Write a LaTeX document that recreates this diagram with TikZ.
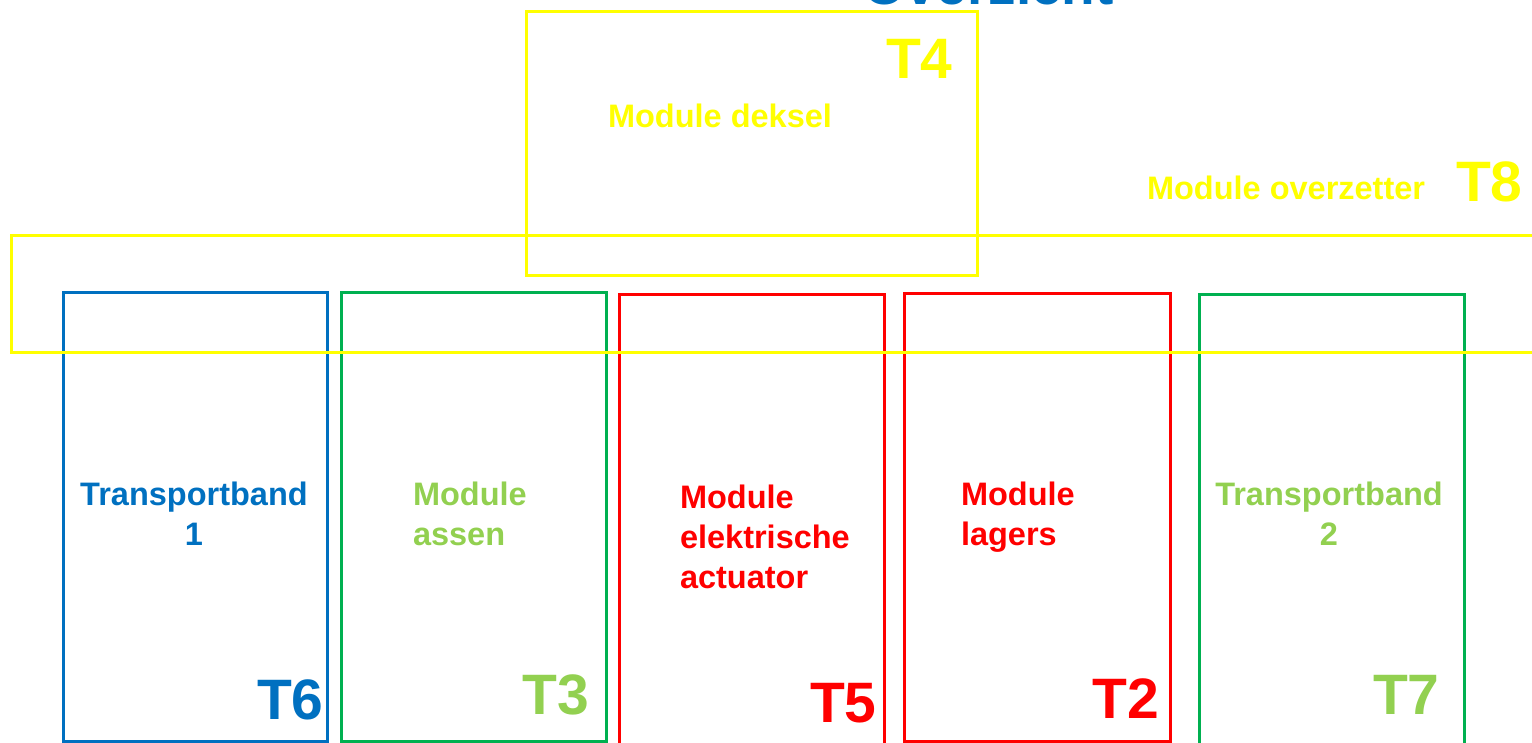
\documentclass[tikz,border=0pt]{standalone}
\usepackage{fontspec}
\setmainfont{Liberation Sans}
\definecolor{cblue}{HTML}{0070C0}
\definecolor{cgreen}{HTML}{00B050}
\definecolor{clgreen}{HTML}{92D050}
\definecolor{cred}{HTML}{FF0000}
\definecolor{cyellow}{HTML}{FFFF00}
\tikzset{
  box/.style={draw=#1, line width=3pt, inner sep=0pt, outer sep=0pt, anchor=north west},
  lbl/.style={text=#1, inner sep=0pt, outer sep=0pt, font=\fontsize{32.5}{40}\selectfont\bfseries},
  tag/.style={text=#1, inner sep=0pt, outer sep=0pt, anchor=base west, font=\fontsize{57}{60}\selectfont\bfseries},
}
\begin{document}
\begin{tikzpicture}[x=1pt,y=-1pt]
\useasboundingbox (0,0) rectangle (1532,743);
\clip (0,0) rectangle (1532,743);
% module boxes
\node[box=cblue,  minimum width=264.5pt, minimum height=448.5pt] (b6) at (63,293) {};
\node[box=cgreen, minimum width=265pt,   minimum height=448.5pt] (b3) at (341,293) {};
\node[box=cred,   minimum width=264.5pt, minimum height=470pt]   (b5) at (619.5,294.5) {};
\node[box=cred,   minimum width=265.5pt, minimum height=448pt]   (b2) at (904.5,293.5) {};
\node[box=cgreen, minimum width=265pt,   minimum height=470pt]   (b7) at (1199,294.5) {};
% yellow boxes
\node[box=cyellow, minimum width=451pt,  minimum height=264pt]   (b4) at (526,12) {};
\node[box=cyellow, minimum width=1540pt, minimum height=116.3pt] (b8) at (11,236) {};
% title
\node[text=cblue, inner sep=0pt, anchor=base west, font=\fontsize{55}{60}\selectfont\bfseries] (title) at (863,5) {Overzicht};
% labels (multi-line: base anchor = last line)
\node[lbl=cyellow, anchor=base west] (l4) at (608,128) {Module deksel};
\node[lbl=cyellow, anchor=base west] (l8) at (1147,199.5) {Module overzetter};
\node[lbl=cblue, anchor=base, align=center] (l6) at (194,545) {Transportband\\1};
\node[lbl=clgreen, anchor=base west, align=left] (l3) at (413,545) {Module\\assen};
\node[lbl=cred, anchor=base west, align=left] (l5) at (680,588.3) {Module\\elektrische\\actuator};
\node[lbl=cred, anchor=base west, align=left] (l2) at (961,545) {Module\\lagers};
\node[lbl=clgreen, anchor=base, align=center] (l7) at (1329,545) {Transportband\\2};
% tags
\node[tag=cyellow] (t4) at (886,79) {T4};
\node[tag=cyellow] (t8) at (1456,201.7) {T8};
\node[tag=cblue]   (t6) at (257,719.3) {T6};
\node[tag=clgreen] (t3) at (522.5,714) {T3};
\node[tag=cred]    (t5) at (810,722.7) {T5};
\node[tag=cred]    (t2) at (1092.7,718.3) {T2};
\node[tag=clgreen] (t7) at (1373,714) {T7};
\end{tikzpicture}
\end{document}
